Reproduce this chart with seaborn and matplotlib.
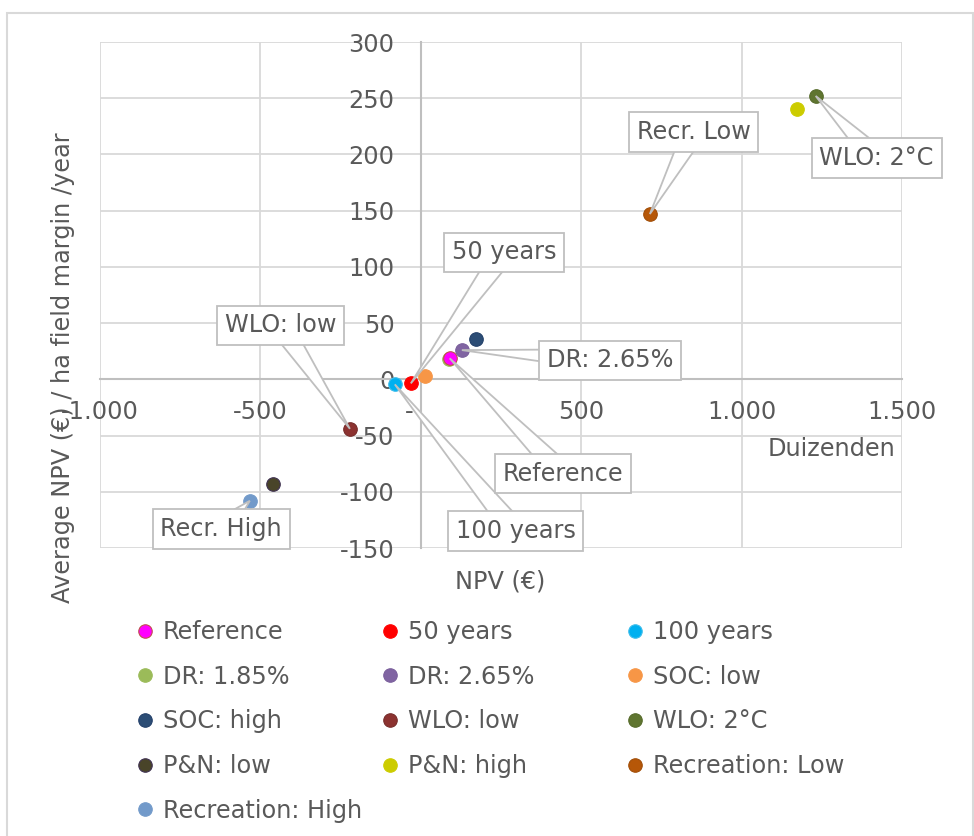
import numpy as np
import pandas as pd
import seaborn as sns
import matplotlib.pyplot as plt
from matplotlib.lines import Line2D
from matplotlib.patches import Rectangle, Polygon
from matplotlib.ticker import FuncFormatter

# scenario results (NPV in thousands of euro, average NPV per ha per year)
names = ["Reference", "50 years", "100 years", "DR: 1.85%", "DR: 2.65%", "SOC: low",
         "SOC: high", "WLO: low", "WLO: 2°C", "P&N: low", "P&N: high",
         "Recreation: Low", "Recreation: High"]
npv_k = [90, -31, -81, 88, 128, 12, 171, -221, 1231, -461, 1172, 714, -533]
avg_npv = [18.7, -3.6, -4.5, 18.5, 26, 2.7, 36, -44, 252, -93, 240, 147, -108]

face_colors = ["#FF00FF", "#FF0000", "#00B0F0", "#9BBB59", "#8064A2", "#F79646",
               "#2C4D75", "#8C3230", "#5F7530", "#494429", "#CCCC00", "#B65708", "#729ACA"]
edge_colors = ["#C0504D", "#FF0000", "#3DBDEB", "#9BBB59", "#7A5F9C", "#F79646",
               "#23406A", "#772C2A", "#566B2A", "#3F3151", "#CCCC00", "#A14D07", "#729ACA"]

# callouts
callout_series = ["Recreation: Low", "WLO: 2°C", "50 years", "WLO: low", "DR: 2.65%",
                  "Reference", "100 years", "Recreation: High"]
callout_text = ["Recr. Low", "WLO: 2°C", "50 years", "WLO: low", "DR: 2.65%",
                "Reference", "100 years", "Recr. High"]
callout_x = [851, 1421, 260, -438, 589, 443, 296, -622]
callout_y = [220, 197, 113, 48, 17, -84, -135, -133]

df = pd.DataFrame({"name": names, "npv": npv_k, "avg": avg_npv})

sns.set_style("white")
plt.rcParams["font.family"] = ["DejaVu Sans"]
TXT = "#595959"
LINE = "#BFBFBF"
FS = 17.3

fig = plt.figure(figsize=(9.74, 8.36), dpi=100)
fig.patches.append(Rectangle((7 / 974, -0.1), (973 - 7) / 974, 1.1 - 13 / 836,
                             transform=fig.transFigure, fill=False,
                             ec="#D9D9D9", lw=1.5, zorder=0))

ax = fig.add_axes([100 / 974, 1 - 548 / 836, 802 / 974, 506 / 836])

for i, row in df.iterrows():
    z = 2 if row["name"] == "DR: 1.85%" else 3
    sns.scatterplot(data=df.iloc[[i]], x="npv", y="avg", ax=ax, color=face_colors[i],
                    edgecolor=edge_colors[i], linewidth=0.8, s=95, zorder=z, legend=False)

ax.set_xlim(-1000, 1500)
ax.set_ylim(-150, 300)
ax.set_xticks(range(-1000, 1501, 500))
ax.set_yticks(range(-150, 301, 50))
# Dutch number format, zero shown as a dash (accounting style)
ax.xaxis.set_major_formatter(FuncFormatter(
    lambda v, p: "-   " if v == 0 else f"{v:,.0f}".replace(",", ".")))
ax.yaxis.set_major_formatter(FuncFormatter(lambda v, p: f"{v:.0f}"))
ax.grid(True, color="#D9D9D9", lw=1.3)
ax.set_axisbelow(True)
for side in ["top", "right"]:
    ax.spines[side].set_visible(False)
ax.spines["left"].set_position(("data", 0))
ax.spines["bottom"].set_position(("data", 0))
for side in ["left", "bottom"]:
    ax.spines[side].set_color(LINE)
    ax.spines[side].set_linewidth(1.5)
ax.tick_params(axis="both", length=0, labelsize=FS, labelcolor=TXT)
ax.tick_params(axis="x", pad=15)
ax.tick_params(axis="y", pad=19)
ax.set_xlabel("")
ax.set_ylabel("")

# callout boxes with a wedge pointing at the marker
to_px = ax.transData
to_data = ax.transData.inverted()
for ser, txt, tx, ty in zip(callout_series, callout_text, callout_x, callout_y):
    i = names.index(ser)
    p = to_px.transform((npv_k[i], avg_npv[i]))
    c = to_px.transform((tx, ty))
    d = p - c
    n = np.array([-d[1], d[0]]) / np.hypot(*d) * 11
    verts = to_data.transform(np.array([p, c + n, c - n]))
    ax.add_patch(Polygon(verts, closed=True, fc="white", ec=LINE, lw=1.3,
                         zorder=4, clip_on=False))
    ax.text(tx, ty, txt, ha="center", va="center", fontsize=FS, color=TXT, zorder=5,
            bbox=dict(boxstyle="square,pad=0.32", fc="white", ec=LINE, lw=1.3))

fig.text(63 / 974, 1 - 368 / 836, "Average NPV (€) / ha field margin /year",
         rotation=90, ha="center", va="center", fontsize=FS, color=TXT)
fig.text(500 / 974, 1 - 582 / 836, "NPV (€)", ha="center", va="center",
         fontsize=FS, color=TXT)
fig.text(895 / 974, 1 - 449 / 836, "Duizenden", ha="right", va="center",
         fontsize=FS, color=TXT)

# legend: three fixed-width columns, filled row by row
col_x = [133, 378, 623]
for c in range(3):
    idx = list(range(c, len(names), 3))
    handles = [Line2D([], [], marker="o", ls="none", markersize=9.7,
                      markerfacecolor=face_colors[i], markeredgecolor=edge_colors[i],
                      markeredgewidth=0.8) for i in idx]
    fig.legend(handles, [names[i] for i in idx], loc="upper left",
               bbox_to_anchor=(col_x[c] / 974, 1 - 620 / 836), frameon=False,
               fontsize=FS, labelcolor=TXT, handlelength=1.0, handletextpad=0.25,
               labelspacing=0.86, borderpad=0, borderaxespad=0)

fig.savefig("out.png", dpi=100)
